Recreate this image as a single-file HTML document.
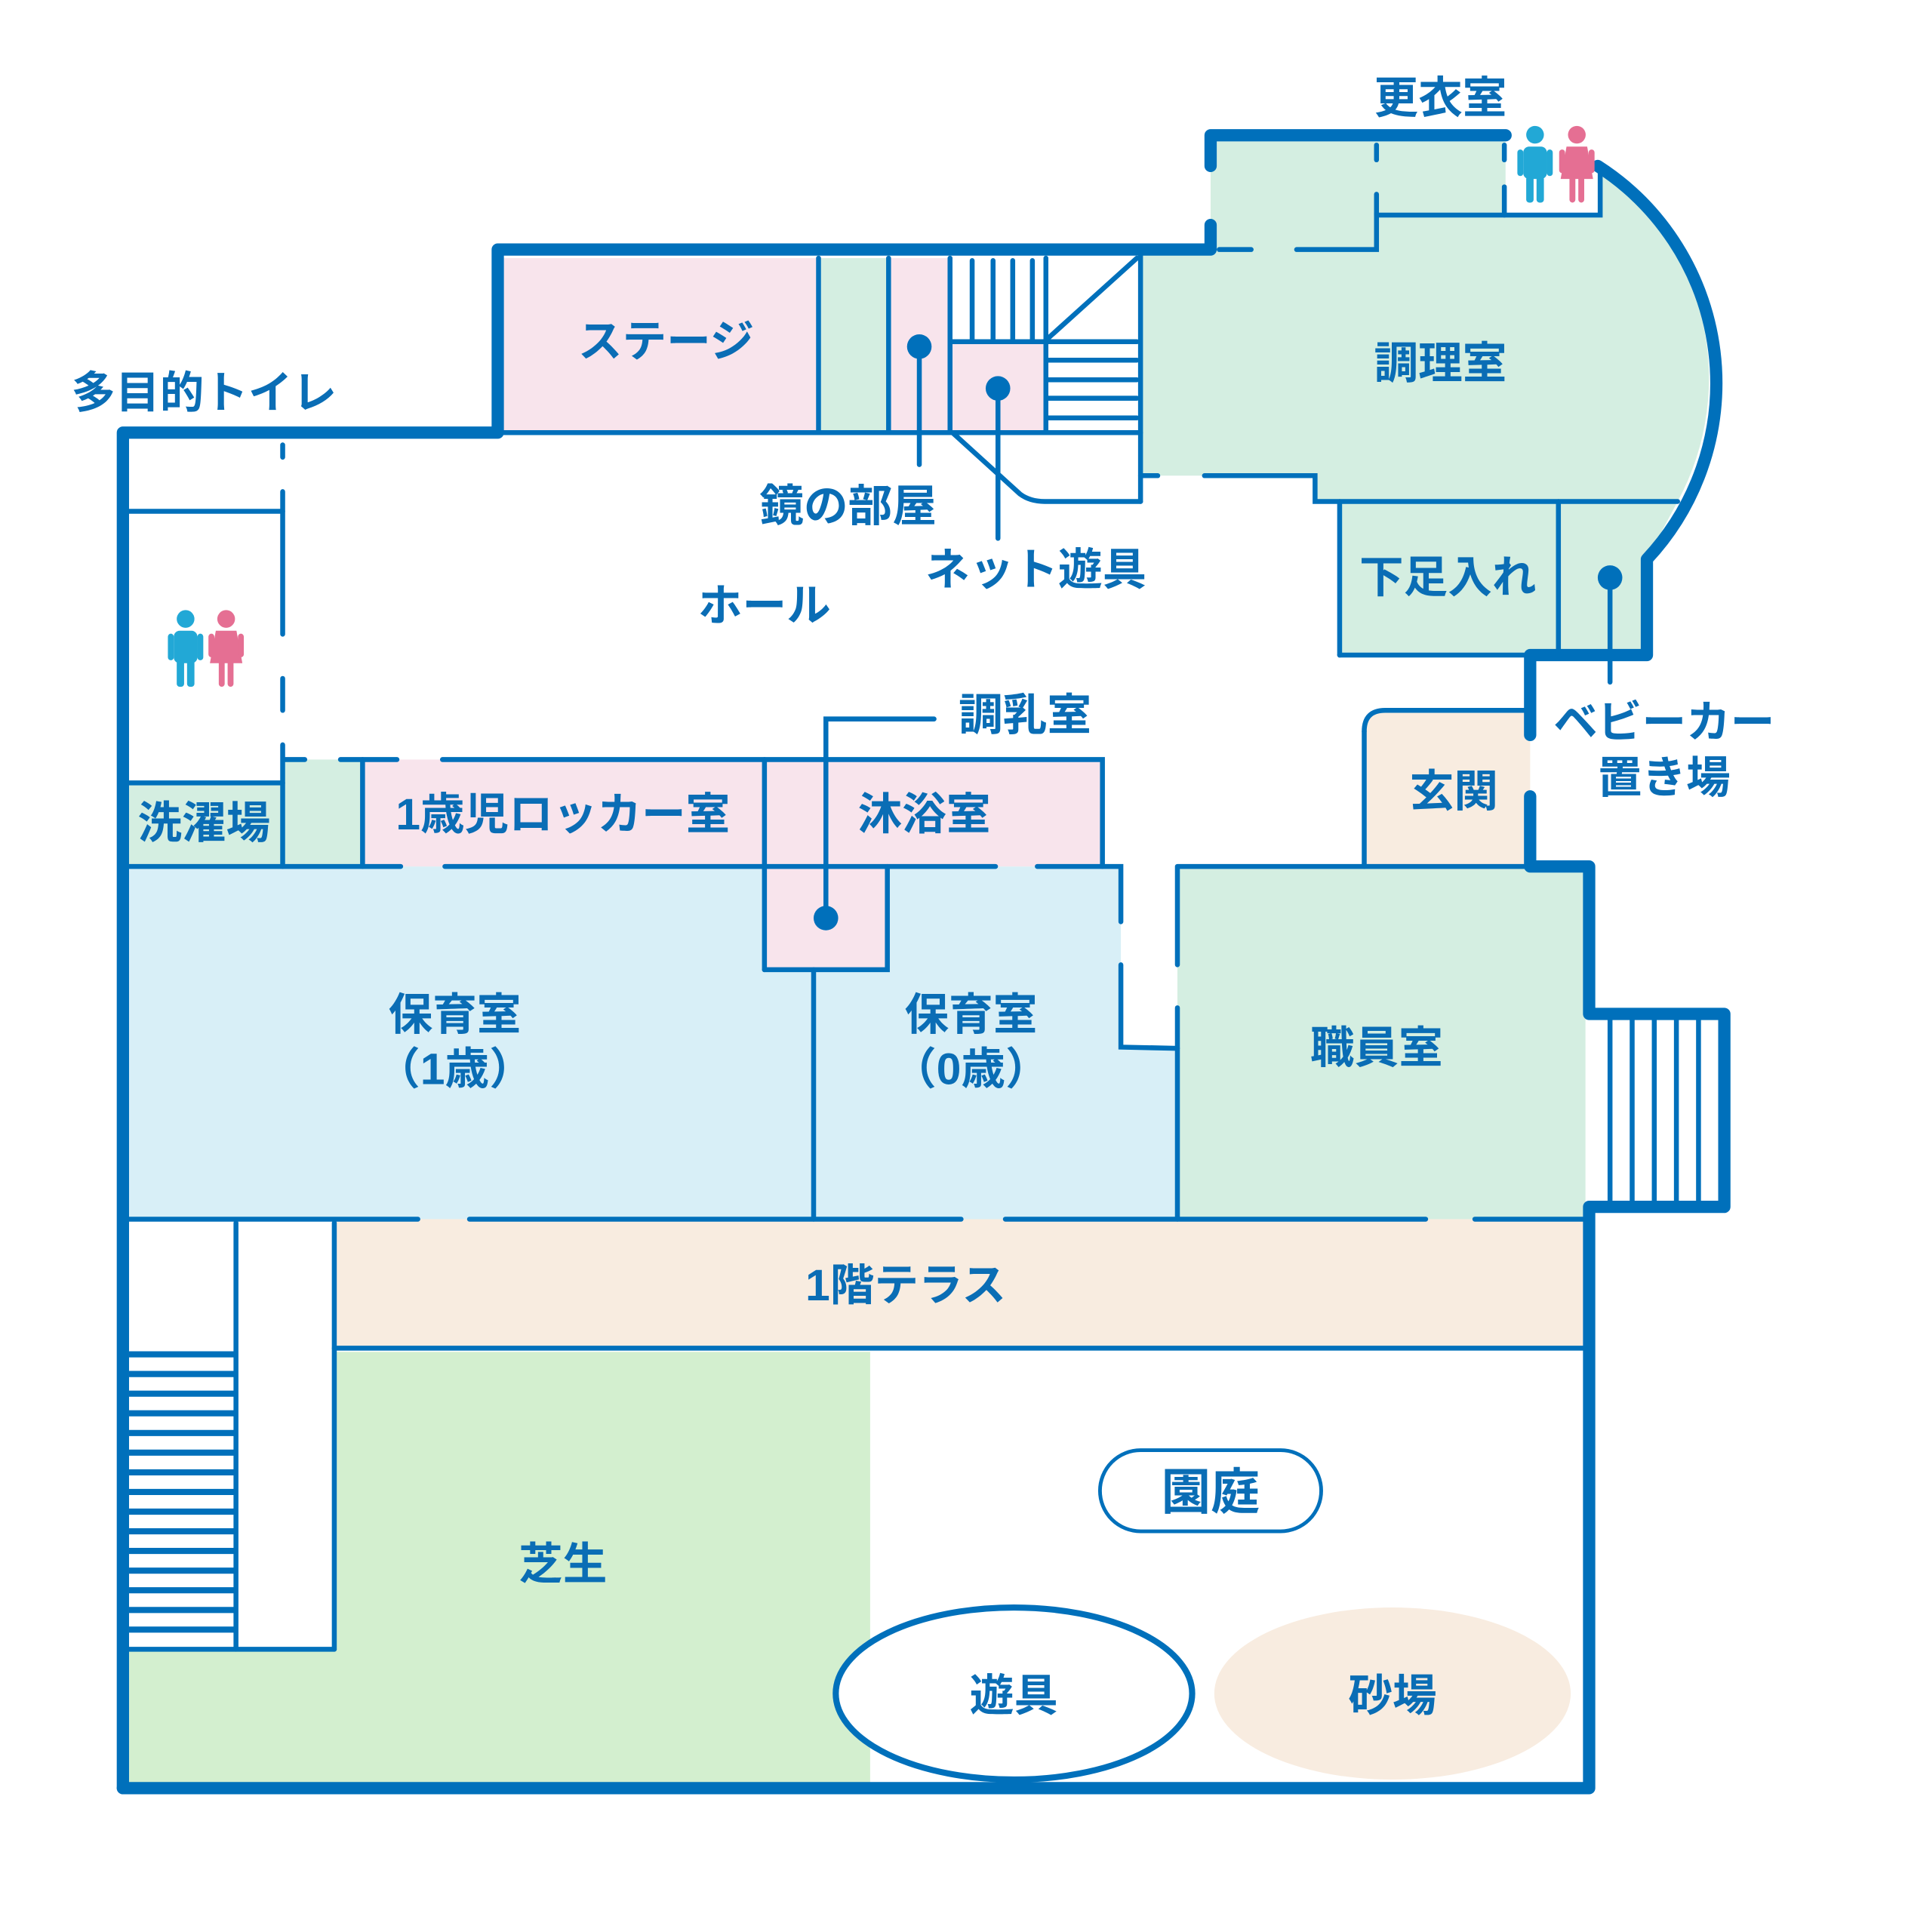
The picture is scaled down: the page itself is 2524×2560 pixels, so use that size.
<!DOCTYPE html>
<html><head><meta charset="utf-8"><style>
html,body{margin:0;padding:0;background:#fff}
svg{display:block}
text{font-family:"Liberation Sans","Noto Sans CJK JP",sans-serif;font-weight:bold;fill:#0a6db5;}
</style></head><body>
<svg width="2524" height="2560" viewBox="0 0 1550 1572" xmlns="http://www.w3.org/2000/svg">
<defs>
<g id="boy"><circle cx="0" cy="-22" r="6" fill="#22a8d6"/><rect x="-8" y="-14" width="16" height="22" rx="4" fill="#22a8d6"/><rect x="-6" y="6" width="5" height="18" rx="2" fill="#22a8d6"/><rect x="1" y="6" width="5" height="18" rx="2" fill="#22a8d6"/><rect x="-12" y="-12" width="4" height="18" rx="2" fill="#22a8d6"/><rect x="8" y="-12" width="4" height="18" rx="2" fill="#22a8d6"/></g>
<g id="girl"><circle cx="0" cy="-22" r="6" fill="#e56f93"/><path d="M-7,-14 H7 L11,8 H-11 Z" fill="#e56f93"/><rect x="-5" y="6" width="4" height="18" rx="2" fill="#e56f93"/><rect x="1" y="6" width="4" height="18" rx="2" fill="#e56f93"/><rect x="-12" y="-12" width="4" height="16" rx="2" fill="#e56f93"/><rect x="8" y="-12" width="4" height="16" rx="2" fill="#e56f93"/></g>
</defs>
<g stroke="none">
<rect x="410" y="210" width="256" height="142" fill="#f8e4ec"/>
<rect x="668" y="210" width="55" height="142" fill="#d4eee1"/>
<rect x="725" y="210" width="48" height="142" fill="#f8e4ec"/>
<rect x="775" y="278" width="76" height="74" fill="#f8e4ec"/>
<path d="M928,205 H985 V115 H1225 V175 H1300 V135 A210,210 0 0 1 1365,408 L1340,455 V533 H1090 V408 H1070 V387 H928 Z" fill="#d4eee1"/>
<path d="M1110,705 V595 Q1110,578 1127,578 H1245 V705 Z" fill="#f8ece0"/>
<rect x="958" y="705" width="332" height="287" fill="#d4eee1"/>
<rect x="105" y="705" width="557" height="287" fill="#d8eff7"/>
<path d="M662,705 H912 V852 H958 V992 H662 Z" fill="#d8eff7"/>
<rect x="622" y="705" width="100" height="84" fill="#f8e4ec"/>
<rect x="105" y="637" width="125" height="68" fill="#d4eee1"/>
<rect x="232" y="618" width="63" height="87" fill="#d4eee1"/>
<rect x="295" y="618" width="602" height="87" fill="#f8e4ec"/>
<rect x="272" y="992" width="1016" height="105" fill="#f8ece0"/>
<rect x="105" y="1100" width="603" height="352" fill="#d3efcf"/>
<rect x="105" y="995" width="167" height="347" fill="#fff"/>
<ellipse cx="1133" cy="1378" rx="145" ry="70" fill="#f8ece0"/>
</g>
<g stroke="#0070bb" stroke-width="4" fill="none" stroke-linecap="round">
<line x1="666" y1="210" x2="666" y2="352"/><line x1="723" y1="210" x2="723" y2="352"/>
<line x1="773" y1="210" x2="773" y2="352"/><line x1="851" y1="210" x2="851" y2="352"/>
<line x1="928" y1="205" x2="928" y2="408"/>
<line x1="410" y1="352" x2="928" y2="352"/>
<line x1="775" y1="278" x2="925" y2="278"/>
<line x1="791" y1="212" x2="791" y2="276"/><line x1="808" y1="212" x2="808" y2="276"/><line x1="824" y1="212" x2="824" y2="276"/><line x1="840" y1="212" x2="840" y2="276"/>
<line x1="853" y1="293" x2="925" y2="293"/><line x1="853" y1="309" x2="925" y2="309"/><line x1="853" y1="324" x2="925" y2="324"/><line x1="853" y1="340" x2="925" y2="340"/>
<line x1="853" y1="275" x2="925" y2="210"/>
<path d="M775,352 L830,402 Q838,408 850,408 H928"/>
<line x1="928" y1="387" x2="942" y2="387"/>
<path d="M980,387 H1070 V408 H1365"/>
<line x1="1090" y1="408" x2="1090" y2="533"/><line x1="1268" y1="408" x2="1268" y2="533"/>
<line x1="1090" y1="533" x2="1245" y2="533"/>
<path d="M992,203 H1018 M1055,203 H1120 V175 H1302 V135"/>
<line x1="1120" y1="118" x2="1120" y2="130"/><line x1="1120" y1="158" x2="1120" y2="175"/>
<line x1="1224" y1="118" x2="1224" y2="130"/><line x1="1224" y1="152" x2="1224" y2="175"/>
<line x1="748" y1="282" x2="748" y2="378"/><line x1="812" y1="316" x2="812" y2="438"/>
<line x1="1310" y1="470" x2="1310" y2="555"/>
<path d="M672,747 V585 H760"/>
<line x1="105" y1="416" x2="230" y2="416"/>
<path d="M230,362 V372 M230,400 V516 M230,552 V578 M230,606 V705"/>
<line x1="105" y1="637" x2="230" y2="637"/>
<path d="M232,618 H248 M277,618 H323 M360,618 H897 V705"/>
<line x1="295" y1="618" x2="295" y2="705"/><line x1="622" y1="618" x2="622" y2="789"/>
<path d="M105,705 H326 M362,705 H810 M844,705 H912 V750 M912,785 V852 L958,853"/>
<path d="M958,705 H1245 M958,705 V785 M958,820 V992"/>
<path d="M622,789 H722 V705"/><line x1="662" y1="789" x2="662" y2="992"/>
<line x1="1110" y1="705" x2="1110" y2="595"/><path d="M1110,595 Q1110,578 1127,578 H1245"/>
<path d="M105,992 H340 M382,992 H782 M818,992 H1160 M1200,992 H1288"/>
<line x1="272" y1="1097" x2="1290" y2="1097"/>
<line x1="192" y1="995" x2="192" y2="1342"/><line x1="272" y1="995" x2="272" y2="1342"/><line x1="105" y1="1342" x2="272" y2="1342"/>
<line x1="1310" y1="830" x2="1310" y2="978"/><line x1="1328" y1="830" x2="1328" y2="978"/><line x1="1346" y1="830" x2="1346" y2="978"/><line x1="1364" y1="830" x2="1364" y2="978"/><line x1="1382" y1="830" x2="1382" y2="978"/>
<rect x="895" y="1180" width="180" height="66" rx="33" fill="#fff" stroke-width="3"/>
</g>
<g stroke="#0070bb" stroke-width="5">
<line x1="105" y1="1102" x2="192" y2="1102"/><line x1="105" y1="1118" x2="192" y2="1118"/><line x1="105" y1="1134" x2="192" y2="1134"/><line x1="105" y1="1150" x2="192" y2="1150"/><line x1="105" y1="1166" x2="192" y2="1166"/><line x1="105" y1="1182" x2="192" y2="1182"/><line x1="105" y1="1198" x2="192" y2="1198"/><line x1="105" y1="1214" x2="192" y2="1214"/><line x1="105" y1="1230" x2="192" y2="1230"/><line x1="105" y1="1246" x2="192" y2="1246"/><line x1="105" y1="1262" x2="192" y2="1262"/><line x1="105" y1="1278" x2="192" y2="1278"/><line x1="105" y1="1294" x2="192" y2="1294"/><line x1="105" y1="1310" x2="192" y2="1310"/><line x1="105" y1="1326" x2="192" y2="1326"/>
</g>
<ellipse cx="825" cy="1378" rx="145" ry="70" fill="#fff" stroke="#0070bb" stroke-width="5"/>
<g stroke="#0070bb" stroke-width="10" fill="none" stroke-linecap="round" stroke-linejoin="round">
<path d="M100,1455 V352 H405 V203 H985 V183"/>
<path d="M985,135 V110 H1225"/>
<path d="M1300,135 A210,210 0 0 1 1340,455 V533 H1245 V598"/>
<path d="M1245,648 V705 H1293 V825 H1403 V982 H1293 V1455 H100"/>
</g>
<g fill="#0070bb">
<circle cx="748" cy="282" r="10"/><circle cx="812" cy="316" r="10"/><circle cx="1310" cy="470" r="10"/><circle cx="672" cy="747" r="10"/>
</g>
<g transform="translate(151,530) scale(1.2)"><use href="#boy"/></g>
<g transform="translate(184,530) scale(1.2)"><use href="#girl"/></g>
<g transform="translate(1249,136) scale(1.2)"><use href="#boy"/></g>
<g transform="translate(1283,136) scale(1.2)"><use href="#girl"/></g>
<g font-size="36">
<text x="1172" y="92" text-anchor="middle">更衣室</text>
<text x="166" y="332" text-anchor="middle">多目的トイレ</text>
<text x="542" y="290" text-anchor="middle">ステージ</text>
<text x="1172" y="308" text-anchor="middle">調理室</text>
<text x="690" y="424" text-anchor="middle">鏡の部屋</text>
<text x="843" y="476" text-anchor="middle">ネット遊具</text>
<text x="622" y="505" text-anchor="middle">ホール</text>
<text x="1178" y="482" text-anchor="middle">下足入れ</text>
<text x="834" y="594" text-anchor="middle">調乳室</text>
<text x="1354" y="600" text-anchor="middle">ベビーカー</text>
<text x="1354" y="645" text-anchor="middle">置き場</text>
<text x="1183" y="656" text-anchor="middle">玄関</text>
<text x="166" y="682" text-anchor="middle">洗濯場</text>
<text x="458" y="675" text-anchor="middle">1歳児ロッカー室</text>
<text x="752" y="675" text-anchor="middle">沐浴室</text>
<text x="370" y="838" text-anchor="middle">保育室</text>
<text x="370" y="882" text-anchor="middle">（1歳）</text>
<text x="790" y="838" text-anchor="middle">保育室</text>
<text x="790" y="882" text-anchor="middle">（0歳）</text>
<text x="1120" y="865" text-anchor="middle">職員室</text>
<text x="737" y="1058" text-anchor="middle">1階テラス</text>
<text x="985" y="1228" text-anchor="middle" font-size="40">園庭</text>
<text x="458" y="1285" text-anchor="middle">芝生</text>
<text x="825" y="1392" text-anchor="middle">遊具</text>
<text x="1133" y="1392" text-anchor="middle">砂場</text>
</g>
</svg>
</body></html>
